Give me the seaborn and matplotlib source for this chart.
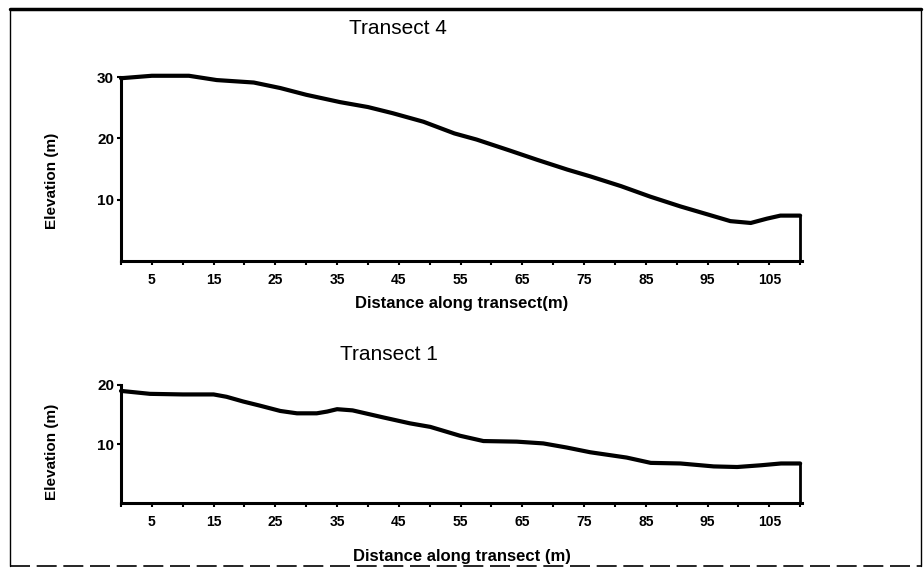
import matplotlib
matplotlib.use("Agg")
import matplotlib.pyplot as plt
from matplotlib.lines import Line2D
import seaborn as sns
import pandas as pd

# Transect 4 (top panel)
t4_distance = [0, 5, 11, 15.5, 21.5, 25.8, 30, 35.5, 40, 44, 49, 54, 57.6, 63,
               67.4, 72.3, 76, 81, 85.7, 90.6, 95, 98.7, 102, 104.6, 106.8, 110]
t4_elevation = [29.8, 30.2, 30.2, 29.5, 29.1, 28.2, 27.1, 25.9, 25.1, 24.1, 22.7,
                20.8, 19.8, 18.0, 16.5, 14.9, 13.8, 12.2, 10.5, 8.9, 7.6, 6.5,
                6.2, 6.9, 7.4, 7.4]

# Transect 1 (bottom panel)
t1_distance = [0, 4.7, 10, 15, 17.1, 19.8, 22.5, 25.8, 28.5, 31.7, 33.4, 35, 37.5,
               42.5, 46.8, 50.1, 54.9, 58.7, 64.1, 68.4, 72.2, 76, 81.9, 85.8,
               90.6, 96, 99.8, 103.7, 106.9, 110]
t1_elevation = [19.0, 18.5, 18.4, 18.4, 18.0, 17.2, 16.5, 15.6, 15.2, 15.2, 15.5,
                15.9, 15.7, 14.5, 13.5, 12.9, 11.4, 10.5, 10.4, 10.1, 9.4, 8.6,
                7.7, 6.8, 6.7, 6.2, 6.1, 6.4, 6.7, 6.7]

x_ticks = list(range(0, 111, 5))
x_tick_labels = [str(v) if v % 10 == 5 else "" for v in x_ticks]
t4_yticks = [10, 20, 30]
t1_yticks = [10, 20]

titles = ["Transect 4", "Transect 1"]
xlabels = ["Distance along transect(m)", "Distance along transect (m)"]
ylabel = "Elevation (m)"

sns.set_style("white")
plt.rcParams["font.family"] = ["Liberation Sans", "DejaVu Sans"]
plt.rcParams["text.color"] = "black"
plt.rcParams["axes.labelcolor"] = "black"
plt.rcParams["xtick.color"] = "black"
plt.rcParams["ytick.color"] = "black"

W, H = 924, 571
fig = plt.figure(figsize=(W / 100, H / 100), dpi=100)


def px_axes(left, top, right, bottom):
    return fig.add_axes([left / W, 1 - bottom / H, (right - left) / W, (bottom - top) / H])


ax1 = px_axes(121, 77, 802, 261)
ax2 = px_axes(121, 385, 802, 503)

panels = [
    (ax1, t4_distance, t4_elevation, 30, t4_yticks, titles[0], xlabels[0],
     (398, 29), -0.19, 0.437),
    (ax2, t1_distance, t1_elevation, 20, t1_yticks, titles[1], xlabels[1],
     (389, 355), -0.39, 0.432),
]

for ax, xs, ys, ymax, yt, title, xl, tpos, xly, yly in panels:
    df = pd.DataFrame({"Distance": xs, "Elevation": ys})
    sns.lineplot(data=df, x="Distance", y="Elevation", ax=ax, color="black",
                 linewidth=3.0, solid_capstyle="round", solid_joinstyle="round",
                 clip_on=False)
    ax.vlines(xs[-1], 0, ys[-1], color="black", linewidth=2.0)
    ax.set_xlim(0, 110.3)
    ax.set_ylim(0, ymax)
    ax.set_xticks(x_ticks)
    ax.set_xticklabels(x_tick_labels, fontsize=10, fontweight="bold")
    ax.set_yticks(yt)
    ax.set_yticklabels([str(v) for v in yt], fontsize=11, fontweight="bold")
    ax.tick_params(axis="both", direction="out", length=3, width=1.5, color="black",
                   pad=2, bottom=True, left=True, labelcolor="black")
    ax.tick_params(axis="x", pad=6)
    for side in ["top", "right"]:
        ax.spines[side].set_visible(False)
    for side in ["left", "bottom"]:
        ax.spines[side].set_linewidth(2.2)
        ax.spines[side].set_color("black")
    ax.set_xlabel(xl, fontsize=12, fontweight="bold", color="black")
    ax.xaxis.set_label_coords(0.5, xly)
    ax.set_ylabel(ylabel, fontsize=11, fontweight="bold", color="black")
    ax.yaxis.set_label_coords(-0.091, yly)
    fig.text(tpos[0] / W, 1 - tpos[1] / H, title, fontsize=15, ha="center",
             va="center", color="black", fontweight="medium")

# scanned frame around the figure
fig.add_artist(Line2D([10 / W, 921 / W], [1 - 9 / H, 1 - 9 / H], color="black",
                      linewidth=2.5, transform=fig.transFigure))
fig.add_artist(Line2D([10 / W, 10 / W], [1 - 9 / H, 1 - 566 / H], color="black",
                      linewidth=1.0, transform=fig.transFigure))
fig.add_artist(Line2D([921 / W, 921 / W], [1 - 9 / H, 1 - 566 / H], color="black",
                      linewidth=1.0, transform=fig.transFigure))
fig.add_artist(Line2D([10 / W, 921 / W], [1 - 566 / H, 1 - 566 / H], color="black",
                      linewidth=1.2, linestyle=(0, (12, 4)), transform=fig.transFigure))

fig.savefig("out.png", dpi=100, facecolor="white")
